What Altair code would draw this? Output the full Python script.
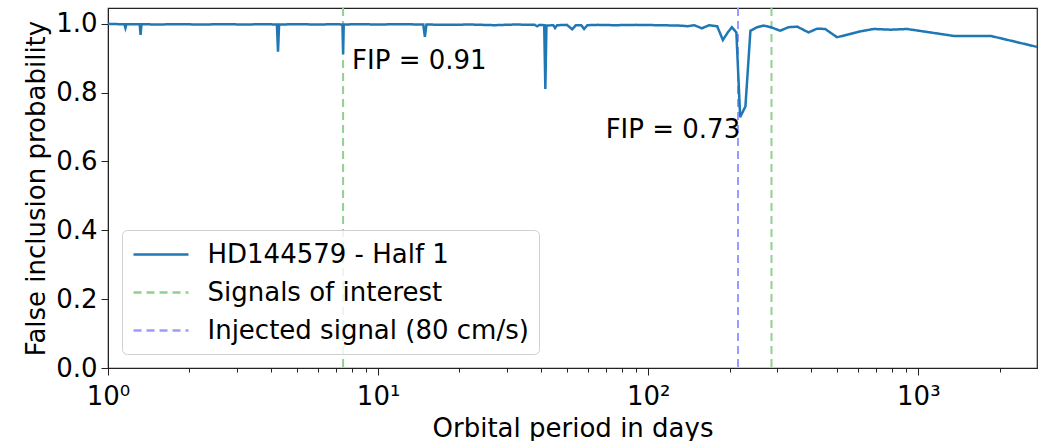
import altair as alt
import pandas as pd

# False inclusion probability curve (orbital period in days -> FIP)
period_days = [
    1.0, 1.10, 1.15, 1.16, 1.17, 1.25, 1.31, 1.32, 1.33, 1.5, 1.8, 2.2, 2.7,
    3.2, 3.8, 4.22, 4.26, 4.30, 5.0, 6.0, 7.0, 7.38, 7.42, 7.46, 8.5, 10.0,
    12.0, 14.7, 14.9, 15.1, 18.0, 22.0, 27.0, 32.0, 38.0, 38.8, 39.6, 41.2,
    41.6, 42.0, 44.5, 45.2, 46.0, 50.0, 52.3, 54.0, 56.5, 57.9, 59.5, 65.0,
    75.0, 90.0, 110.0, 130.0, 140.0, 148.0, 158.0, 168.0, 180.0, 189.0,
    197.0, 204.0, 212.0, 219.0, 229.0, 239.0, 253.0, 267.0, 285.0, 308.0,
    330.0, 356.0, 392.0, 422.0, 452.0, 500.0, 610.0, 682.0, 787.0, 908.0,
    1350.0, 1850.0, 2750.0,
]
fip = [
    1.000, 0.999, 0.999, 0.988, 0.999, 0.999, 0.999, 0.968, 0.999, 0.998,
    0.999, 0.998, 0.999, 0.998, 0.999, 0.998, 0.919, 0.998, 0.999, 0.998,
    0.999, 0.998, 0.912, 0.998, 0.999, 0.998, 0.999, 0.998, 0.962, 0.998,
    0.997, 0.998, 0.996, 0.998, 0.997, 0.993, 0.997, 0.996, 0.811, 0.995,
    0.996, 0.988, 0.996, 0.997, 0.984, 0.996, 0.996, 0.985, 0.996, 0.997,
    0.996, 0.997, 0.996, 0.995, 0.993, 0.996, 0.987, 0.996, 0.993, 0.953,
    0.975, 0.990, 0.975, 0.729, 0.760, 0.980, 0.990, 0.995, 0.990, 0.980,
    0.990, 0.992, 0.975, 0.986, 0.985, 0.961, 0.978, 0.985, 0.983, 0.985,
    0.965, 0.965, 0.933,
]

series_names = ["HD144579 - Half 1", "Signals of interest", "Injected signal (80 cm/s)"]
series_colors = ["#1f77b4", "#90d090", "#9a9aff"]

signal_periods = [7.42, 286.0]
injected_periods = [215.0]

# Annotated dips: (period, FIP) of the labelled minima
annot_periods = [7.42, 219.0]
annot_fip = [0.912, 0.729]

x_major = [1, 10, 100, 1000]
x_minor = [2, 3, 4, 5, 6, 7, 8, 9, 20, 30, 40, 50, 60, 70, 80, 90,
           200, 300, 400, 500, 600, 700, 800, 900, 2000]
y_ticks = [0.0, 0.2, 0.4, 0.6, 0.8, 1.0]

FONT = "DejaVu Sans"

curve = pd.DataFrame({"period": period_days, "fip": fip, "series": series_names[0]})
rules = pd.DataFrame({
    "period": signal_periods + injected_periods,
    "series": [series_names[1]] * len(signal_periods) + [series_names[2]] * len(injected_periods),
})
annots = pd.DataFrame({"period": annot_periods, "fip": annot_fip})
annots["label"] = ["FIP = %.2f" % v for v in annots["fip"]]

x_scale = alt.Scale(type="log", domain=[1, 2750], nice=False)
y_scale = alt.Scale(domain=[0, 1.046], nice=False, zero=False)

decade_test = " || ".join("datum.value == %d" % v for v in x_major)
label_expr = (
    "datum.value == 1 ? '10\u2070' : datum.value == 10 ? '10\u00b9' : "
    "datum.value == 100 ? '10\u00b2' : datum.value == 1000 ? '10\u00b3' : ''"
)

x_axis = alt.Axis(
    title="Orbital period in days",
    values=x_major + x_minor,
    labelExpr=label_expr,
    labelFlush=False,
    labelOverlap=False,
    tickSize={"condition": {"test": decade_test, "value": 7}, "value": 4},
    labelFontSize=26,
    titleFontSize=26,
    labelPadding=8,
    titlePadding=6,
    grid=False,
)
y_axis = alt.Axis(
    title="False inclusion probability",
    values=y_ticks,
    format=".1f",
    tickSize=7,
    labelFontSize=26,
    titleFontSize=26,
    labelPadding=4,
    titlePadding=6,
    grid=False,
)

# Legend key: a horizontal stroke ~2.1x the symbol size on each side
legend_key = "M-2.115,0H2.115"

color_enc = alt.Color(
    "series:N",
    scale=alt.Scale(domain=series_names, range=series_colors),
    title=None,
    legend=alt.Legend(
        orient="none",
        legendX=14,
        legendY=222,
        symbolType=legend_key,
        symbolSize=676,
        symbolOffset=14.5,
        symbolStrokeWidth=2.5,
        labelFontSize=26,
        labelFont=FONT,
        labelLimit=0,
        labelOffset=32,
        rowPadding=10,
        padding=10,
        strokeColor="#d0d0d0",
        fillColor="rgba(255,255,255,0.8)",
        cornerRadius=5,
    ),
)
dash_enc = alt.StrokeDash(
    "series:N",
    scale=alt.Scale(domain=series_names, range=[[1, 0], [8, 5], [8, 5]]),
    title=None,
)

line = alt.Chart(curve).mark_line(strokeWidth=2.5, clip=True).encode(
    x=alt.X("period:Q", scale=x_scale, axis=x_axis),
    y=alt.Y("fip:Q", scale=y_scale, axis=y_axis),
    color=color_enc,
    strokeDash=dash_enc,
)

vlines = alt.Chart(rules).mark_rule(strokeWidth=2).encode(
    x=alt.X("period:Q", scale=x_scale),
    color=color_enc,
    strokeDash=dash_enc,
)

text_left = alt.Chart(annots.iloc[[0]]).mark_text(
    align="left", baseline="top", dx=9, dy=-6, fontSize=26, font=FONT, color="black"
).encode(x=alt.X("period:Q", scale=x_scale), y=alt.Y("fip:Q", scale=y_scale), text="label:N")

text_right = alt.Chart(annots.iloc[[1]]).mark_text(
    align="right", baseline="top", dx=0, dy=0, fontSize=26, font=FONT, color="black"
).encode(x=alt.X("period:Q", scale=x_scale), y=alt.Y("fip:Q", scale=y_scale), text="label:N")

chart = (
    alt.layer(vlines, line, text_left, text_right)
    .properties(
        width=929,
        height=360,
        autosize=alt.AutoSizeParams(type="none"),
        padding={"left": 108, "top": 8, "right": 11, "bottom": 73},
    )
    .configure(font=FONT)
    .configure_view(stroke="#222222", strokeWidth=1.2)
    .configure_axis(
        domainColor="#222222",
        tickColor="#222222",
        labelColor="black",
        titleColor="black",
        labelFont=FONT,
        titleFont=FONT,
        titleFontWeight="normal",
    )
)

chart.save("out.html", embed_options={"renderer": "svg", "actions": False})
